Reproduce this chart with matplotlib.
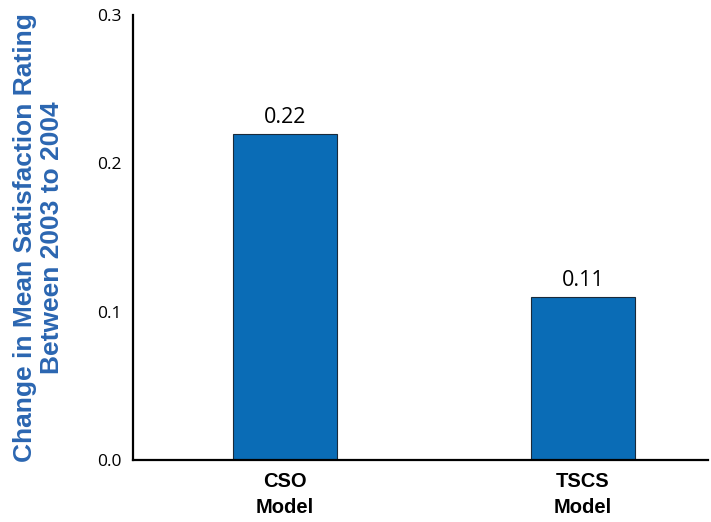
import matplotlib
matplotlib.use('Agg')
import matplotlib.pyplot as plt
import numpy as np

# data
categories = ['CSO\nModel', 'TSCS\nModel']
changes = [0.22, 0.11]
value_labels = ['0.22', '0.11']
yticks = [0.0, 0.1, 0.2, 0.3]

bar_color = '#0a6cb6'
label_color = '#2b66b1'

fig = plt.figure(figsize=(7.11, 5.22), dpi=100)
ax = fig.add_axes([0.187, 0.119, 0.809, 0.852])

x = np.arange(len(categories))
ax.bar(x, changes, width=0.35, color=bar_color, edgecolor='#1a2a3a', linewidth=0.8, zorder=2)

for xi, v, lab in zip(x, changes, value_labels):
    ax.text(xi, v + 0.004, lab, ha='center', va='bottom', fontsize=15.5,
            family='Open Sans', color='black')

ax.set_xlim(-0.51, 1.42)
ax.set_ylim(0, 0.3)
ax.set_yticks(yticks)
ax.set_yticklabels(['%.1f' % t for t in yticks], fontsize=12.5, family='Open Sans')
ax.set_xticks(x)
ax.set_xticklabels(categories, fontsize=14.5, fontweight='bold', family='Liberation Sans',
                   linespacing=1.45)
ax.tick_params(axis='both', length=0, pad=8)
ax.tick_params(axis='x', pad=9)

for s in ['top', 'right']:
    ax.spines[s].set_visible(False)
ax.spines['left'].set_linewidth(1.6)
ax.spines['bottom'].set_linewidth(1.6)

ax.set_ylabel('Change in Mean Satisfaction Rating\nBetween 2003 to 2004', fontsize=19,
              fontweight='bold', family='Liberation Sans', color=label_color,
              linespacing=1.15, labelpad=24)

fig.savefig('out.png', dpi=100)
